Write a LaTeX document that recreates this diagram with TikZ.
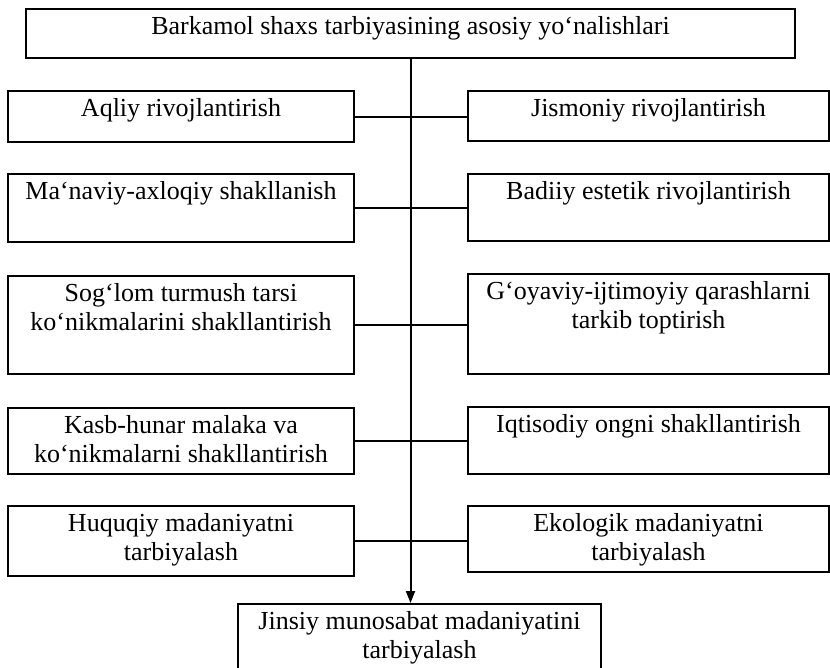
\documentclass[tikz,border=0pt]{standalone}
\usepackage{fontspec}
\setmainfont{Liberation Serif}
\usetikzlibrary{arrows.meta}
\tikzset{
  box/.style={rectangle,draw,line width=2pt,inner sep=0pt,anchor=north west,
    font=\fontsize{26}{29}\selectfont},
  line/.style={line width=2pt},
  arrow/.style={line width=2pt,-{Triangle[length=12pt,width=9pt]}}
}
% fixed size box, text at the top
\newcommand{\boxtext}[3]{\parbox[t][#2][t]{#1}{\centering\vspace*{7pt}#3}}

\begin{document}
\begin{tikzpicture}[x=1pt,y=-1pt]
\useasboundingbox (0,0) rectangle (830,667);
\node[box] (top) at (25,8) {\boxtext{769pt}{49pt}{Barkamol shaxs tarbiyasining asosiy yo‘nalishlari}};

\node[box] (l1) at (7,90) {\boxtext{346pt}{51pt}{Aqliy rivojlantirish}};
\node[box] (r1) at (467,90) {\boxtext{361pt}{50pt}{Jismoniy rivojlantirish}};
\node[box] (l2) at (7,173) {\boxtext{346pt}{68pt}{Ma‘naviy-axloqiy shakllanish}};
\node[box] (r2) at (467,173) {\boxtext{361pt}{67pt}{Badiiy estetik rivojlantirish}};
\node[box] (l3) at (7,275) {\boxtext{346pt}{98pt}{Sog‘lom turmush tarsi\\ko‘nikmalarini shakllantirish}};
\node[box] (r3) at (467,273) {\boxtext{361pt}{100pt}{G‘oyaviy-ijtimoyiy qarashlarni\\tarkib toptirish}};
\node[box] (l4) at (7,407) {\boxtext{346pt}{66pt}{Kasb-hunar malaka va\\ko‘nikmalarni shakllantirish}};
\node[box] (r4) at (467,406) {\boxtext{361pt}{67pt}{Iqtisodiy ongni shakllantirish}};
\node[box] (l5) at (7,505) {\boxtext{346pt}{70pt}{Huquqiy madaniyatni\\tarbiyalash}};
\node[box] (r5) at (467,505) {\boxtext{361pt}{66pt}{Ekologik madaniyatni\\tarbiyalash}};

\node[box] (bot) at (237,603) {\boxtext{363pt}{68pt}{Jinsiy munosabat madaniyatini\\tarbiyalash}};

\draw[arrow] (top.south) -- (top.south |- bot.north);
\foreach \i in {1,...,5}
  \draw[line] (l\i.east) -- (l\i.east -| r\i.west);
\end{tikzpicture}
\end{document}
